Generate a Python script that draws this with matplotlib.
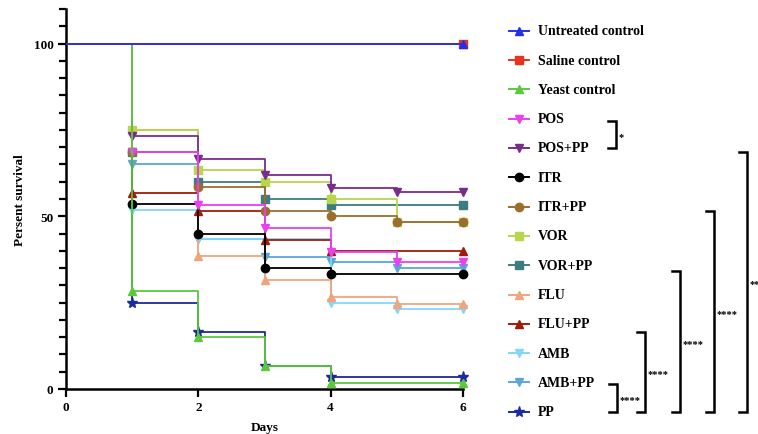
import matplotlib
matplotlib.use("Agg")
import matplotlib.pyplot as plt

plt.rcParams['font.family'] = ['Liberation Serif', 'DejaVu Serif']
plt.rcParams['font.weight'] = 'bold'

# ---------- data (percent survival at day 0..6) ----------
days = [0, 1, 2, 3, 4, 5, 6]

untreated = [100, 100, 100, 100, 100, 100, 100]
saline = [100, 100, 100, 100, 100, 100, 100]
yeast = [100, 28.3, 15.0, 6.7, 1.7, 1.7, 1.7]
pos = [100, 68.5, 53.3, 46.7, 39.8, 36.8, 36.8]
pos_pp = [100, 73.3, 66.7, 62.0, 58.2, 57.0, 57.0]
itr = [100, 53.5, 45.0, 35.0, 33.4, 33.4, 33.4]
itr_pp = [100, 68.5, 58.4, 51.5, 50.0, 48.3, 48.3]
vor = [100, 75.0, 63.4, 60.0, 55.0, 48.3, 48.3]
vor_pp = [100, 68.5, 60.0, 55.0, 53.3, 53.3, 53.3]
flu = [100, 75.0, 38.4, 31.5, 26.7, 24.6, 24.6]
flu_pp = [100, 56.7, 51.6, 43.1, 40.0, 40.0, 40.0]
amb = [100, 51.7, 43.3, 43.3, 24.8, 23.3, 23.3]
amb_pp = [100, 65.0, 43.3, 38.3, 36.8, 35.0, 35.0]
pp = [100, 25.0, 16.6, 6.7, 3.4, 3.4, 3.4]

names = ['Untreated control', 'Saline control', 'Yeast control', 'POS', 'POS+PP',
         'ITR', 'ITR+PP', 'VOR', 'VOR+PP', 'FLU', 'FLU+PP', 'AMB', 'AMB+PP', 'PP']
series = [untreated, saline, yeast, pos, pos_pp, itr, itr_pp, vor, vor_pp,
          flu, flu_pp, amb, amb_pp, pp]
colors = ['#2330e8', '#e8321e', '#5cc83a', '#e940f2', '#7a2c8c', '#000000', '#9c6e2e',
          '#b8d64c', '#3e7c80', '#f0a47c', '#a11a0c', '#84d6fb', '#5aa6d8', '#1c2a9c']
markers = ['^', 's', '^', 'v', 'v', 'o', 'o', 's', 's', '^', '^', 'v', 'v', '*']

# significance brackets: (x, y_top, y_bottom, label)  -- pixel layout
brackets = [(616, 122, 149, '*'),
            (617, 385, 413, '****'),
            (645, 333, 413, '****'),
            (680, 272, 413, '****'),
            (714, 212, 413, '****'),
            (747, 153, 413, '**')]

W, H = 758, 435
fig = plt.figure(figsize=(W / 100, H / 100), dpi=100)
ax = fig.add_axes([66 / W, 45 / H, 397 / W, 380 / H])

# first data set on top, like Prism
for i in reversed(range(len(series))):
    y = series[i]
    c = colors[i]
    ax.step(days, y, where='post', color=c, lw=1.3, zorder=3)
    idx = [k for k in range(1, len(days)) if y[k] < y[k - 1]]
    if len(days) - 1 not in idx:
        idx.append(len(days) - 1)
    ms = 8 if markers[i] == '*' else 6
    ax.plot([days[k] for k in idx], [y[k] for k in idx], linestyle='none',
            marker=markers[i], ms=ms, color=c, mec=c, clip_on=False, zorder=3)

ax.set_xlim(0, 6)
ax.set_ylim(0, 110)
for s in ['top', 'right']:
    ax.spines[s].set_visible(False)
for s in ['left', 'bottom']:
    ax.spines[s].set_linewidth(1.8)
ax.set_xticks([0, 2, 4, 6])
ax.set_yticks([0, 50, 100])
ax.set_yticks([v for v in range(0, 111, 5) if v % 50 != 0], minor=True)
ax.tick_params(axis='both', which='major', length=6, width=1.6, labelsize=9.5, pad=3)
ax.tick_params(axis='y', which='minor', length=5, width=1.6)
for lab in ax.get_xticklabels() + ax.get_yticklabels():
    lab.set_fontweight('bold')

# ---------- overlay in pixel coordinates ----------
ov = fig.add_axes([0, 0, 1, 1])
ov.set_xlim(0, W)
ov.set_ylim(H, 0)
ov.axis('off')
ov.patch.set_visible(False)

ov.text(20, 200, 'Persent survival', rotation=90, ha='center', va='center',
        fontsize=9.5, fontweight='bold')
ov.text(265, 428, 'Days', ha='center', va='center', fontsize=9.5, fontweight='bold')

for i, name in enumerate(names):
    y = 31.8 + 29.3 * i
    ms = 8 if markers[i] == '*' else 6
    ov.plot([508.5, 528.5], [y, y], color=colors[i], lw=1.4)
    ov.plot(518.5, y, marker=markers[i], ms=ms, color=colors[i], mec=colors[i])
    ov.text(537.5, y, name, ha='left', va='center', fontsize=10, fontweight='bold')

for x, y0, y1, lab in brackets:
    ov.plot([x - 8, x, x, x - 8], [y0, y0, y1, y1], color='black', lw=1.8,
            solid_joinstyle='miter', clip_on=False)
    ov.text(x + 2.5, (y0 + y1) / 2 + 2, lab, ha='left', va='center', fontsize=7.5,
            fontweight='bold')

fig.savefig('out.png', dpi=100, facecolor='white')
